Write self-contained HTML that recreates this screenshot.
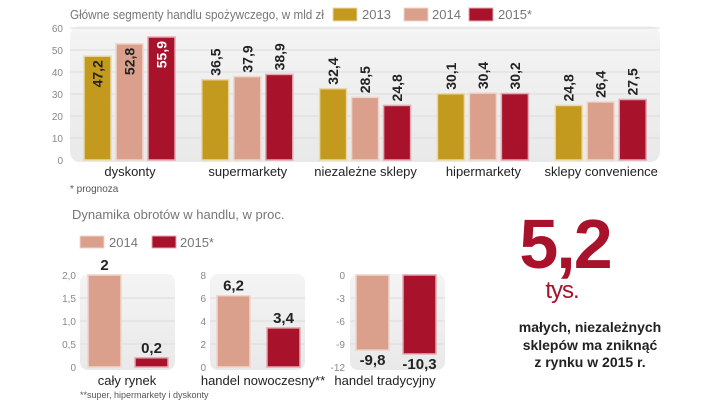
<!DOCTYPE html>
<html><head><meta charset="utf-8"><style>
body{margin:0;background:#fff;width:720px;height:405px;overflow:hidden}
svg text{font-family:"Liberation Sans",sans-serif}
</style></head><body>
<svg id="c" width="720" height="405" viewBox="0 0 720 405">
<defs><linearGradient id="bg" x1="0" y1="0" x2="0" y2="1"><stop offset="0" stop-color="#f4f4f4"/><stop offset="1" stop-color="#e9e9e9"/></linearGradient></defs>
<text x="70" y="19" font-size="13" fill="#777" textLength="254" lengthAdjust="spacingAndGlyphs">Główne segmenty handlu spożywczego, w mld zł</text>
<g>
<rect x="333" y="8" width="24" height="13" fill="#c49a1e" stroke="#ead9a8"/><text x="362" y="19" font-size="13" fill="#777">2013</text>
<rect x="404" y="8" width="24" height="13" fill="#dba08c" stroke="#f0d6cc"/><text x="432" y="19" font-size="13" fill="#777">2014</text>
<rect x="469" y="8" width="24" height="13" fill="#a8122b" stroke="#e2aab3"/><text x="498" y="19" font-size="13" fill="#777">2015*</text>
</g>
<rect x="70" y="26" width="590" height="136" rx="10" fill="url(#bg)"/>
<g id="topg"></g>
<text x="70" y="192" font-size="10" fill="#555">* prognoza</text>
<text x="72" y="219" font-size="13" fill="#777">Dynamika obrotów w handlu, w proc.</text>
<g>
<rect x="80" y="236" width="24" height="12" fill="#dba08c" stroke="#f0d6cc"/><text x="109" y="247" font-size="13" fill="#777">2014</text>
<rect x="152" y="236" width="24" height="12" fill="#a8122b" stroke="#e2aab3"/><text x="180" y="247" font-size="13" fill="#777">2015*</text>
</g>
<g id="botg"></g>
<text x="80" y="398" font-size="9" fill="#555">**super, hipermarkety i dyskonty</text>
<g>
<text x="565" y="268" font-size="70" font-weight="bold" fill="#a8122b" text-anchor="middle" letter-spacing="-2">5,2</text>
<text x="562" y="298" font-size="24" fill="#a8122b" text-anchor="middle" letter-spacing="-1">tys.</text>
<text x="590" y="332" font-size="14" font-weight="bold" fill="#222" text-anchor="middle">małych, niezależnych</text>
<text x="590" y="350" font-size="14" font-weight="bold" fill="#222" text-anchor="middle">sklepów ma zniknąć</text>
<text x="590" y="367" font-size="14" font-weight="bold" fill="#222" text-anchor="middle">z rynku w 2015 r.</text>
</g>
</svg>
<script>
const categories=["dyskonty","supermarkety","niezależne sklepy","hipermarkety","sklepy convenience"];
const s2013=[47.2,36.5,32.4,30.1,24.8];
const s2014=[52.8,37.9,28.5,30.4,26.4];
const s2015=[55.9,38.9,24.8,30.2,27.5];
const topTicks=[0,10,20,30,40,50,60];
const dynCategories=["cały rynek","handel nowoczesny**","handel tradycyjny"];
const dyn2014=[2,6.2,-9.8];
const dyn2015=[0.2,3.4,-10.3];
const dynTicks=[[0,0.5,1.0,1.5,2.0],[0,2,4,6,8],[-12,-9,-6,-3,0]];
const NS="http://www.w3.org/2000/svg";
function mk(p,t,a,txt){const e=document.createElementNS(NS,t);for(const k in a)e.setAttribute(k,a[k]);if(txt!=null)e.textContent=txt;p.appendChild(e);return e;}
const fmt=v=>String(v).replace('.',',');
const cols=["#c49a1e","#dba08c","#a8122b"],strokes=["#ead9a8","#f0d6cc","#e2aab3"];
const topG=document.getElementById('topg');
const yTop=v=>160-v*2.2;
topTicks.forEach(t=>{
 if(t>0){const l=mk(topG,'line',{x1:70,x2:660,y1:yTop(t),y2:yTop(t),stroke:'#dcdcdc'});
 
 }
 const tx=mk(topG,'text',{x:63,y:yTop(t)+4,'font-size':10,fill:'#888','text-anchor':'end'},t);
 
 
});
const series=[s2013,s2014,s2015];
categories.forEach((c,i)=>{
 const cx=130+i*117.8;
 series.forEach((s,j)=>{
  const v=s[i],x=cx-46+j*32,h=v*2.2;
  const r=mk(topG,'rect',{x:x,y:yTop(v),width:27,height:h,fill:cols[j],stroke:strokes[j],'stroke-width':1.5});
  
  
  const inside=v>45;
  const ly=inside?yTop(v)+4:yTop(v)-4;
  const t=mk(topG,'text',{x:0,y:0,'font-size':14,'font-weight':'bold',fill:inside&&j==2?'#fff':'#222','text-anchor':inside?'end':'start',transform:`translate(${x+18.5},${ly}) rotate(-90)`},fmt(v));
  
  
 });
 const lb=mk(topG,'text',{x:cx,y:176,'font-size':13,fill:'#222','text-anchor':'middle'},c);
 
 
});
const botG=document.getElementById('botg');
const panels=[{lx:76,bx:80,b1:88,b2:135,cx:127},{lx:206,bx:210,b1:217,b2:267,cx:263},{lx:345,bx:350,b1:356,b2:403,cx:385}];
panels.forEach((p,i)=>{
 const tk=dynTicks[i],mn=tk[0],mx=tk[tk.length-1];
 const yy=v=>367-(v-mn)/(mx-mn)*92;
 const bg=mk(botG,'rect',{x:p.bx,y:274,width:95,height:96,rx:8,fill:'url(#bg)'});
 
 
 tk.forEach(t=>{
  if(t!==mn&&t!==mx){const l=mk(botG,'line',{x1:p.bx,x2:p.bx+95,y1:yy(t),y2:yy(t),stroke:'#dcdcdc'});
  
  }
  const tx=mk(botG,'text',{x:p.lx,y:yy(t)+4,'font-size':10,fill:'#888','text-anchor':'end'},i==0&&t!==0?t.toFixed(1).replace('.',','):t);
  
  
 });
 const base=yy(0);
 [dyn2014[i],dyn2015[i]].forEach((v,j)=>{
  const x=j?p.b2:p.b1,y1=Math.min(yy(v),base),h=Math.abs(yy(v)-base);
  const r=mk(botG,'rect',{x:x,y:y1,width:33,height:h,fill:cols[j+1],stroke:strokes[j+1],'stroke-width':1.5});
  
  
  const ty=v<0?yy(v)+15:yy(v)-5;
  const t=mk(botG,'text',{x:x+16.5,y:ty,'font-size':15,'font-weight':'bold',fill:'#222','text-anchor':'middle'},fmt(v));
  
  
 });
 const lb=mk(botG,'text',{x:p.cx,y:385,'font-size':13,fill:'#222','text-anchor':'middle'},dynCategories[i]);
 
 
});
</script>
</body></html>
